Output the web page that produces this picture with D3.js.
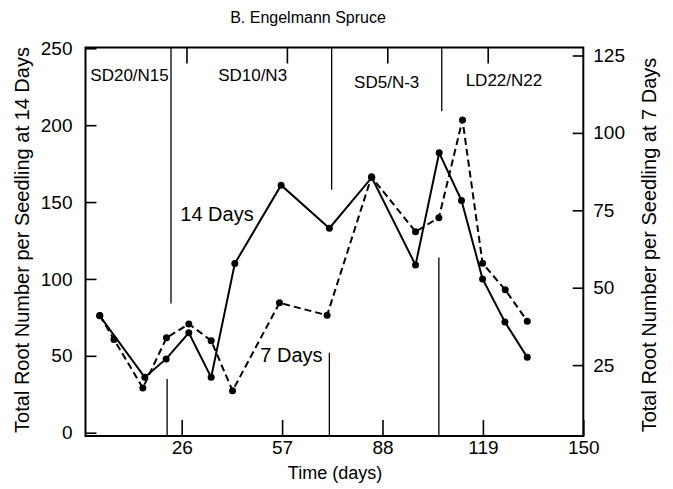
<!DOCTYPE html>
<html>
<head>
<meta charset="utf-8">
<script src="https://cdn.jsdelivr.net/npm/d3@7"></script>
<style>
  body { margin: 0; background: #fff; }
  svg { display: block; font-family: "Liberation Sans", Arial, sans-serif; }
  .axis text { font-size: 19px; fill: #000; }
  .axis line { stroke: #000; stroke-width: 1.6px; }
</style>
</head>
<body>
<svg id="chart" width="673" height="489"></svg>
<script>
// 14 day counts (left axis) and 7 day counts (right axis)
const days14 = [0.7, 14.6, 21.2, 28.2, 35.1, 42.4, 56.7, 71.6, 84.7, 98.2, 105.5, 112.4, 118.9, 125.8, 132.7];
const roots14 = [76, 36, 48, 65, 36, 110, 161, 133, 166, 109, 182, 151, 100, 72, 49];
const days7 = [0.7, 5.1, 14.0, 21.3, 28.2, 35.1, 41.7, 56.2, 70.9, 84.6, 98.2, 105.4, 112.7, 118.9, 125.9, 132.7];
const roots7 = [41, 33.3, 17.6, 33.8, 38.3, 32.9, 16.7, 45.1, 41.1, 85.8, 68.1, 72.6, 104.2, 57.9, 49.3, 39.2];

const xTicks = [26, 57, 88, 119, 150];
const leftTicks = [0, 50, 100, 150, 200, 250];
const rightTicks = [25, 50, 75, 100, 125];

// period boundaries (days) and how far the lines reach (left axis units)
const periodNames = ["SD20/N15", "SD10/N3", "SD5/N-3", "LD22/N22"];
const periodMid = [9.9, 47.9, 89.3, 125.5];
const periodLabelY = [229, 228.5, 224, 225.5];
const dividerTop = [22.7, 72.3, 106.3];
const dividerTopEnd = [84, 158, 209];
const dividerBottom = [21.5, 71.6, 105.4];
const dividerBottomEnd = [35, 52, 114];

const plotLeft = 85.5, plotRight = 583.3, plotTop = 47.5, plotBottom = 436;

const svg = d3.select("#chart");

const x = d3.scaleLinear().domain([-3.7, 150]).range([plotLeft, plotRight]);
const yL = d3.scaleLinear().domain([0, 250]).range([432.7, 48.3]);
const yR = d3.scaleLinear().domain([0, 125]).range([442.5, 55.5]);

// title
svg.append("text")
    .attr("x", 308).attr("y", 23)
    .attr("text-anchor", "middle")
    .style("font-size", "16px")
    .text("B. Engelmann Spruce");

// axes
svg.append("g").attr("class", "axis")
    .attr("transform", "translate(0," + plotBottom + ")")
    .call(d3.axisBottom(x).tickValues(xTicks).tickSize(-16).tickPadding(5))
    .call(g => g.select(".domain").remove());

svg.append("g").attr("class", "axis")
    .attr("transform", "translate(4.8," + plotTop + ")")
    .call(d3.axisTop(x).tickValues(xTicks.slice(0, 4)).tickSize(-16).tickFormat(""))
    .call(g => g.select(".domain").remove());

svg.append("g").attr("class", "axis")
    .attr("transform", "translate(" + plotLeft + ",0)")
    .call(d3.axisLeft(yL).tickValues(leftTicks).tickSize(-11).tickPadding(13))
    .call(g => g.select(".domain").remove());

svg.append("g").attr("class", "axis")
    .attr("transform", "translate(" + plotRight + ",0)")
    .call(d3.axisRight(yR).tickValues(rightTicks).tickSize(-10.6).tickPadding(10))
    .call(g => g.select(".domain").remove());

// frame
svg.append("rect")
    .attr("x", plotLeft).attr("y", plotTop)
    .attr("width", plotRight - plotLeft).attr("height", plotBottom - plotTop)
    .attr("fill", "none").attr("stroke", "#000").attr("stroke-width", 2);

// axis titles
svg.append("text")
    .attr("transform", "translate(29,240) rotate(-90)")
    .attr("text-anchor", "middle")
    .style("font-size", "20px")
    .text("Total Root Number per Seedling at 14 Days");

svg.append("text")
    .attr("transform", "translate(656,245) rotate(-90)")
    .attr("text-anchor", "middle")
    .style("font-size", "20px")
    .text("Total Root Number per Seedling at 7 Days");

svg.append("text")
    .attr("x", 335).attr("y", 479)
    .attr("text-anchor", "middle")
    .style("font-size", "18px")
    .text("Time (days)");

// period dividers
svg.selectAll(".divTop")
    .data(dividerTop)
    .enter().append("line")
    .attr("x1", d => x(d)).attr("x2", d => x(d))
    .attr("y1", plotTop).attr("y2", (d, i) => yL(dividerTopEnd[i]))
    .attr("stroke", "#000").attr("stroke-width", 1.3);

svg.selectAll(".divBottom")
    .data(dividerBottom)
    .enter().append("line")
    .attr("x1", d => x(d)).attr("x2", d => x(d))
    .attr("y1", plotBottom).attr("y2", (d, i) => yL(dividerBottomEnd[i]))
    .attr("stroke", "#000").attr("stroke-width", 1.3);

svg.selectAll(".period")
    .data(periodNames)
    .enter().append("text")
    .attr("x", (d, i) => x(periodMid[i]))
    .attr("y", (d, i) => yL(periodLabelY[i]))
    .attr("text-anchor", "middle")
    .style("font-size", "17px")
    .text(d => d);

// series
const line14 = d3.line().x(d => x(d[0])).y(d => yL(d[1]));
const line7 = d3.line().x(d => x(d[0])).y(d => yR(d[1]));
const pts14 = days14.map((d, i) => [d, roots14[i]]);
const pts7 = days7.map((d, i) => [d, roots7[i]]);

svg.append("path")
    .attr("d", line7(pts7))
    .attr("fill", "none").attr("stroke", "#000")
    .attr("stroke-width", 2).attr("stroke-dasharray", "7,4");

svg.append("path")
    .attr("d", line14(pts14))
    .attr("fill", "none").attr("stroke", "#000")
    .attr("stroke-width", 2);

svg.selectAll(".dot7")
    .data(pts7)
    .enter().append("circle")
    .attr("cx", d => x(d[0])).attr("cy", d => yR(d[1]))
    .attr("r", 3.5).attr("fill", "#000");

svg.selectAll(".dot14")
    .data(pts14)
    .enter().append("circle")
    .attr("cx", d => x(d[0])).attr("cy", d => yL(d[1]))
    .attr("r", 3.5).attr("fill", "#000");

// series labels
svg.append("text")
    .attr("x", x(36.9)).attr("y", yL(137.7))
    .attr("text-anchor", "middle")
    .style("font-size", "20px")
    .text("14 Days");

svg.append("text")
    .attr("x", x(59.9)).attr("y", yL(46))
    .attr("text-anchor", "middle")
    .style("font-size", "20px")
    .text("7 Days");
</script>
</body>
</html>
